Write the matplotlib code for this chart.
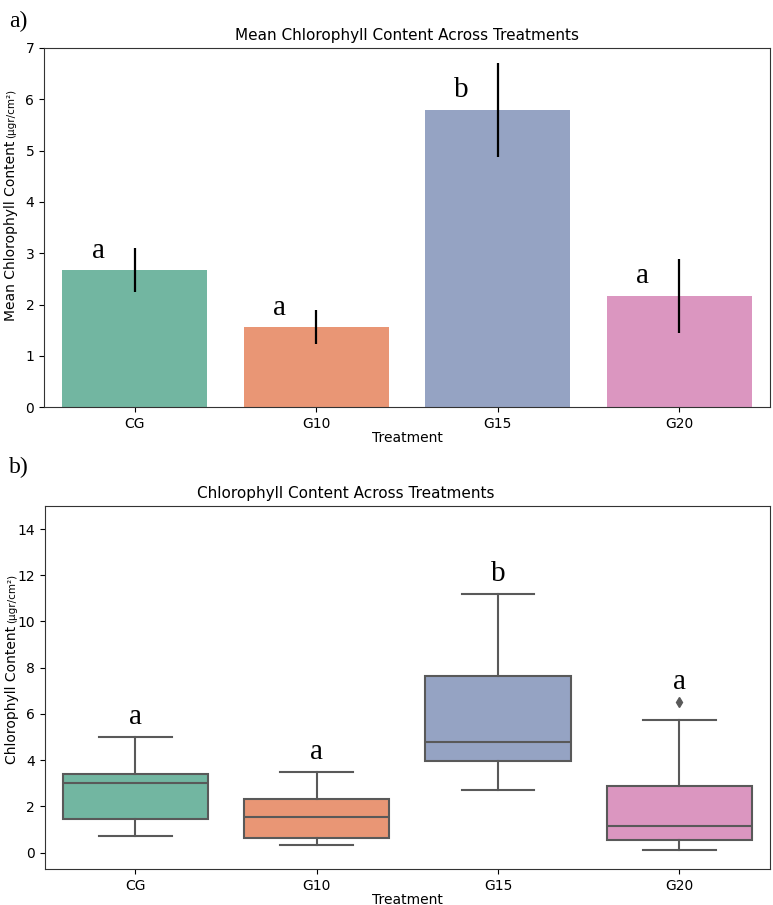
import matplotlib
matplotlib.use("Agg")
import matplotlib.pyplot as plt
import seaborn as sns

treatments = ["CG", "G10", "G15", "G20"]

# panel a: mean and error bar limits
means = [2.67, 1.56, 5.80, 2.17]
err_low = [2.24, 1.23, 4.87, 1.45]
err_high = [3.10, 1.89, 6.70, 2.88]
letters_a = ["a", "a", "b", "a"]

# panel b: box plot summaries
q1 = [1.45, 0.62, 3.95, 0.53]
medians = [3.02, 1.56, 4.80, 1.16]
q3 = [3.42, 2.30, 7.63, 2.87]
whis_lo = [0.72, 0.32, 2.70, 0.12]
whis_hi = [5.00, 3.50, 11.20, 5.72]
fliers = [[], [], [], [6.50]]
letters_b = ["a", "a", "b", "a"]

colors = [sns.desaturate(c, 0.75) for c in sns.color_palette("Set2", 4)]
line_gray = "#595959"
serif = "Liberation Serif"

fig = plt.figure(figsize=(7.73, 9.05), dpi=100)
ax1 = fig.add_axes([0.057, 0.550, 0.939, 0.397])
ax2 = fig.add_axes([0.058, 0.040, 0.938, 0.401])

# ---- a) bar chart
x = list(range(len(treatments)))
ax1.bar(x, means, width=0.8, color=colors)
ax1.vlines(x, err_low, err_high, color="black", lw=1.6)
for i in x:
    ax1.text(i - 0.2, means[i] + 0.13, letters_a[i], ha="center", va="bottom",
             fontsize=21, family=serif)
ax1.set_xlim(-0.5, 3.5)
ax1.set_ylim(0, 7)
ax1.set_xticks(x)
ax1.set_xticklabels(treatments)
ax1.set_xlabel("Treatment", labelpad=0)
ax1.set_title("Mean Chlorophyll Content Across Treatments", fontsize=11)

# ---- b) box plot
stats = []
for i in x:
    stats.append({"med": medians[i], "q1": q1[i], "q3": q3[i],
                  "whislo": whis_lo[i], "whishi": whis_hi[i],
                  "fliers": fliers[i]})
bp = ax2.bxp(stats, positions=x, widths=0.8, patch_artist=True,
             capwidths=0.4,
             boxprops=dict(edgecolor=line_gray, linewidth=1.5),
             medianprops=dict(color=line_gray, linewidth=1.5),
             whiskerprops=dict(color=line_gray, linewidth=1.5),
             capprops=dict(color=line_gray, linewidth=1.5),
             flierprops=dict(marker="d", markerfacecolor=line_gray,
                             markeredgecolor=line_gray, markersize=5))
for patch, c in zip(bp["boxes"], colors):
    patch.set_facecolor(c)
for i in x:
    top = max([whis_hi[i]] + fliers[i])
    ax2.text(i, top + 0.3, letters_b[i], ha="center", va="bottom",
             fontsize=21, family=serif)
ax2.set_xlim(-0.5, 3.5)
ax2.set_ylim(-0.7, 15)
ax2.set_yticks(range(0, 15, 2))
ax2.set_xticks(x)
ax2.set_xticklabels(treatments)
ax2.set_xlabel("Treatment", labelpad=0)
ax2.set_title("Chlorophyll Content Across Treatments", fontsize=11, x=0.415)

for ax in (ax1, ax2):
    ax.tick_params(labelsize=10)
    for s in ax.spines.values():
        s.set_color("#333333")

# y labels with a smaller unit part
def unit_label(ax, main, unit, yfrac):
    t = ax.text(-0.045, yfrac, main, rotation=90, ha="center", va="center",
                fontsize=10, transform=ax.transAxes)
    ax.annotate(unit, xy=(0.5, 1.0), xycoords=t, xytext=(0, 2),
                textcoords="offset points", rotation=90, ha="center",
                va="bottom", fontsize=7.5)

unit_label(ax1, "Mean Chlorophyll Content", "(µgr/cm²)", 0.49)
unit_label(ax2, "Chlorophyll Content", "(µgr/cm²)", 0.48)

fig.text(0.012, 0.988, "a)", family=serif, fontsize=17, va="top", ha="left")
fig.text(0.012, 0.495, "b)", family=serif, fontsize=17, va="top", ha="left")

fig.savefig("out.png", dpi=100)
